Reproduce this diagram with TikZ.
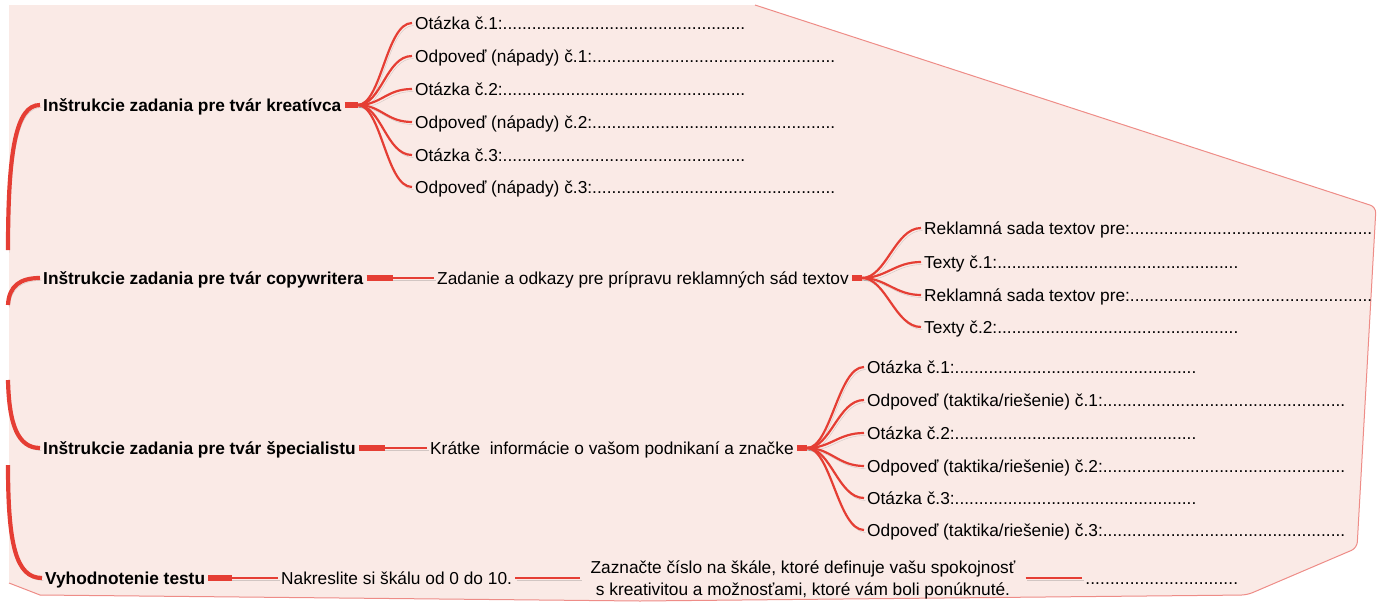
\documentclass[tikz,border=0pt]{standalone}
\usepackage{fontspec}
\setmainfont{Liberation Sans}
\usetikzlibrary{calc}
\definecolor{sheet}{RGB}{250,234,230}
\definecolor{sheetedge}{RGB}{238,140,135}
\definecolor{branch}{RGB}{229,62,52}
% a label followed by a row of dots, the whole box #1 wide
\newcommand\dotline[2]{\hbox to #1{#2\xleaders\hbox{.}\hfill}}

\begin{document}
\begin{tikzpicture}[x=1pt,y=-1pt,
  every node/.style={font=\fontsize{17.3}{22}\selectfont},
  one/.style={inner xsep=3pt, inner ysep=0pt, text height=12.3pt, text depth=0pt, anchor=west},
  topic/.style={one, font=\fontsize{17.3}{22}\selectfont\bfseries},
  shade/.style={preaction={draw=black!55, opacity=.3, transform canvas={shift={(1.5pt,-2.5pt)}}}},
  spine/.style={draw=branch, line width=4.2pt, shade},
  stub/.style={draw=branch, line width=5.5pt, shade},
  twig/.style={draw=branch, line width=2.2pt, shade},
]
\useasboundingbox (0,0) rectangle (1383,605);

% background sheet
\fill[sheet] (9,5) -- (755,5) [rounded corners=6pt] -- (1376,207) -- (1357,548)
  -- (1247,595) [sharp corners] -- (640,601) -- (40,595) -- (9,583) -- cycle;
\draw[sheetedge, line width=1pt] (755,5) [rounded corners=6pt] -- (1376,207) -- (1357,548)
  -- (1247,595) [sharp corners] -- (640,601) -- (40,595) -- (9,583);

% main topics
\node[topic] (t1) at (40,105) {Inštrukcie zadania pre tvár kreatívca};
\node[topic] (t2) at (40,278) {Inštrukcie zadania pre tvár copywritera};
\node[topic] (t3) at (40,448) {Inštrukcie zadania pre tvár špecialistu};
\node[topic] (t4) at (42,578) {Vyhodnotenie testu};

% creative branch
\node[one] (a1) at (412,23)  {\dotline{330pt}{Otázka č.1:}};
\node[one] (a2) at (412,56)  {\dotline{420pt}{Odpoveď (nápady) č.1:}};
\node[one] (a3) at (412,89)  {\dotline{330pt}{Otázka č.2:}};
\node[one] (a4) at (412,122) {\dotline{420pt}{Odpoveď (nápady) č.2:}};
\node[one] (a5) at (412,155) {\dotline{330pt}{Otázka č.3:}};
\node[one] (a6) at (412,187) {\dotline{420pt}{Odpoveď (nápady) č.3:}};

% copywriter branch
\node[one] (z)  at (434,278) {Zadanie a odkazy pre prípravu reklamných sád textov};
\node[one] (b1) at (921,228) {\dotline{448pt}{Reklamná sada textov pre:}};
\node[one] (b2) at (921,262) {\dotline{314pt}{Texty č.1:}};
\node[one] (b3) at (921,295) {\dotline{448pt}{Reklamná sada textov pre:}};
\node[one] (b4) at (921,327) {\dotline{314pt}{Texty č.2:}};

% specialist branch
\node[one] (k)  at (427,448) {Krátke\ \ informácie o vašom podnikaní a značke};
\node[one] (c1) at (864,367) {\dotline{329pt}{Otázka č.1:}};
\node[one] (c2) at (864,400) {\dotline{478pt}{Odpoveď (taktika/riešenie) č.1:}};
\node[one] (c3) at (864,433) {\dotline{329pt}{Otázka č.2:}};
\node[one] (c4) at (864,466) {\dotline{478pt}{Odpoveď (taktika/riešenie) č.2:}};
\node[one] (c5) at (864,498) {\dotline{329pt}{Otázka č.3:}};
\node[one] (c6) at (864,530) {\dotline{478pt}{Odpoveď (taktika/riešenie) č.3:}};

% evaluation branch
\node[one] (n) at (278,578) {Nakreslite si škálu od 0 do 10.};
\node[align=center, inner xsep=10pt, inner ysep=0pt] (s) at (803,579.5)
  {Zaznačte číslo na škále, ktoré definuje vašu spokojnosť\\s kreativitou a možnosťami, ktoré vám boli ponúknuté.};
\node[one] (d) at (1082,578) {\dotline{153pt}{}};

% spine from the left edge to the topics
\coordinate (r1) at (8,250);
\coordinate (r2) at (8,305);
\coordinate (r3) at (8,380);
\coordinate (r4) at (8,465);
\draw[spine] (r1) .. controls (8,150) and (16,105) .. (t1.west);
\draw[spine] (r2) .. controls (9,286) and (20,278) .. (t2.west);
\draw[spine] (r3) .. controls (9,425) and (18,448) .. (t3.west);
\draw[spine] (r4) .. controls (8,545) and (16,578) .. (t4.west);

% fan of the creative branch
\coordinate (f1) at ($(t1.east)+(13,0)$);
\draw[stub] (t1.east) -- (f1);
\foreach \c in {a1,a2,a3,a4,a5,a6}
  \draw[twig] (f1) .. controls +(24,0) and +(-26,0) .. (\c.west);

% copywriter branch
\coordinate (s2) at ($(t2.east)+(26,0)$);
\draw[stub] (t2.east) -- (s2);
\draw[twig] (s2) -- (z.west);
\coordinate (f2) at ($(z.east)+(10,0)$);
\draw[stub] (z.east) -- (f2);
\foreach \c in {b1,b2,b3,b4}
  \draw[twig] (f2) .. controls +(24,0) and +(-26,0) .. (\c.west);

% specialist branch
\coordinate (s3) at ($(t3.east)+(26,0)$);
\draw[stub] (t3.east) -- (s3);
\draw[twig] (s3) -- (k.west);
\coordinate (f3) at ($(k.east)+(10,0)$);
\draw[stub] (k.east) -- (f3);
\foreach \c in {c1,c2,c3,c4,c5,c6}
  \draw[twig] (f3) .. controls +(24,0) and +(-26,0) .. (\c.west);

% evaluation branch
\coordinate (s4) at ($(t4.east)+(24,0)$);
\draw[stub] (t4.east) -- (s4);
\draw[twig] (s4) -- (n.west);
\draw[twig] (n.east) -- (n.east -| s.west);
\draw[twig] (s.east |- d.west) -- (d.west);
\end{tikzpicture}
\end{document}
